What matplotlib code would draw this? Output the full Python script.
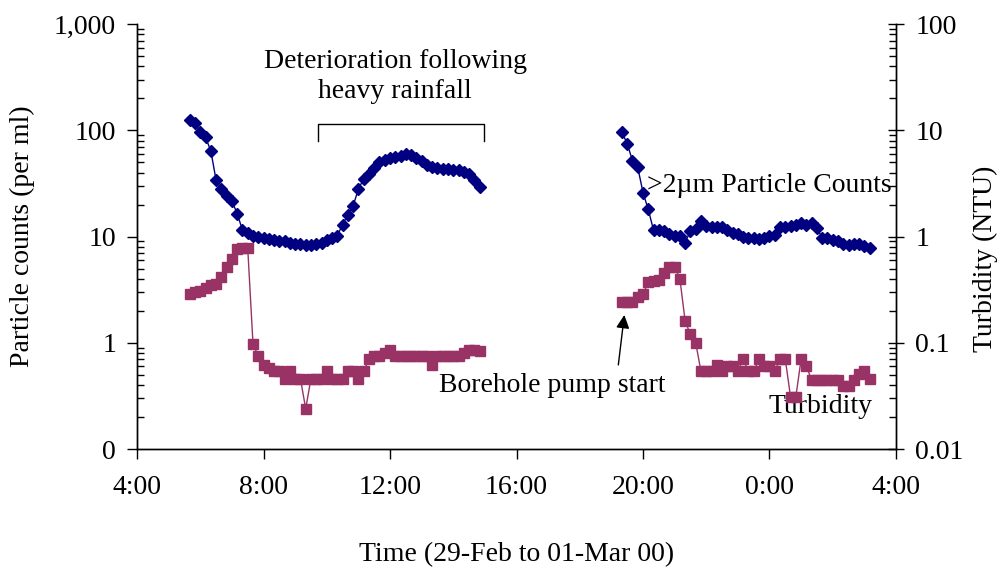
"""
particle counts and turbidity, 29-Feb to 01-Mar 00
"""
import matplotlib
matplotlib.use('Agg')
import matplotlib.pyplot as plt
from matplotlib.ticker import FixedLocator, LogLocator, NullFormatter

plt.rcParams['font.family'] = ['Liberation Serif', 'DejaVu Serif']
plt.rcParams['font.size'] = 20

# >2um particle counts (per ml), first run 29-Feb
count_times_1 = ['5:40', '5:50', '6:00', '6:10', '6:20', '6:30', '6:40', '6:50', '7:00', '7:10',
                 '7:20', '7:30', '7:40', '7:50', '8:00', '8:10', '8:20', '8:30', '8:40', '8:50',
                 '9:00', '9:10', '9:20', '9:30', '9:40', '9:50', '10:00', '10:10', '10:20', '10:30',
                 '10:40', '10:50', '11:00', '11:10', '11:20', '11:30', '11:40', '11:50', '12:00', '12:10',
                 '12:20', '12:30', '12:40', '12:50', '13:00', '13:10', '13:20', '13:30', '13:40', '13:50',
                 '14:00', '14:10', '14:20', '14:30', '14:40', '14:50']
counts_1 = [124, 118, 96, 86, 64, 34, 28, 24, 21.5, 16.5,
            11.5, 10.7, 10.2, 9.9, 9.7, 9.5, 9.3, 9.1, 9.0, 8.8,
            8.6, 8.5, 8.4, 8.4, 8.5, 8.8, 9.2, 9.6, 10.2, 13.0,
            16.0, 19.5, 28, 35, 39, 44, 50, 53, 55, 56,
            58, 60, 59, 55, 51, 47, 45, 44, 43.5, 43,
            42.5, 42, 40.5, 39, 34, 29]

# second run, 29-Feb evening to 01-Mar
count_times_2 = ['19:20', '19:30', '19:40', '19:50', '20:00', '20:10', '20:20', '20:30', '20:40', '20:50',
                 '21:00', '21:10', '21:20', '21:30', '21:40', '21:50', '22:00', '22:10', '22:20', '22:30',
                 '22:40', '22:50', '23:00', '23:10', '23:20', '23:30', '23:40', '23:50', '0:00', '0:10',
                 '0:20', '0:30', '0:40', '0:50', '1:00', '1:10', '1:20', '1:30', '1:40', '1:50',
                 '2:00', '2:10', '2:20', '2:30', '2:40', '2:50', '3:00', '3:10']
counts_2 = [96, 75, 52, 45, 26, 18, 11.5, 11.5, 11.3, 10.5,
            10.2, 10.1, 8.8, 11.3, 11.8, 14.0, 12.6, 12.3, 12.3, 12.2,
            11.5, 10.9, 10.5, 10.0, 9.8, 9.7, 9.5, 9.8, 10.1, 10.3,
            12.2, 12.3, 12.5, 12.8, 13.3, 12.9, 13.3, 12.0, 9.8, 9.6,
            9.3, 9.0, 8.5, 8.4, 8.6, 8.6, 8.1, 7.8]

# turbidity (NTU), same sample times
turbidity_1 = [0.29, 0.30, 0.31, 0.33, 0.35, 0.36, 0.42, 0.52, 0.62, 0.76,
               0.78, 0.78, 0.098, 0.075, 0.062, 0.058, 0.054, 0.054, 0.046, 0.054,
               0.046, 0.046, 0.024, 0.046, 0.046, 0.046, 0.054, 0.046, 0.046, 0.046,
               0.054, 0.054, 0.046, 0.054, 0.07, 0.076, 0.076, 0.08, 0.085, 0.076,
               0.076, 0.076, 0.076, 0.076, 0.076, 0.076, 0.062, 0.076, 0.076, 0.076,
               0.076, 0.076, 0.08, 0.085, 0.085, 0.083]
turbidity_2 = [0.24, 0.24, 0.245, 0.27, 0.29, 0.37, 0.38, 0.39, 0.45, 0.52,
               0.52, 0.40, 0.16, 0.12, 0.10, 0.054, 0.054, 0.054, 0.062, 0.054,
               0.06, 0.06, 0.054, 0.07, 0.054, 0.054, 0.07, 0.06, 0.06, 0.054,
               0.07, 0.07, 0.031, 0.031, 0.07, 0.06, 0.045, 0.045, 0.045, 0.045,
               0.045, 0.045, 0.039, 0.039, 0.045, 0.051, 0.054, 0.046]

x_ticks = [4, 8, 12, 16, 20, 24, 28]
x_tick_labels = ['4:00', '8:00', '12:00', '16:00', '20:00', '0:00', '4:00']
left_ticks = [0.1, 1, 10, 100, 1000]
left_tick_labels = ['0', '1', '10', '100', '1,000']
right_ticks = [0.01, 0.1, 1, 10, 100]
right_tick_labels = ['0.01', '0.1', '1', '10', '100']

NAVY = '#000080'
PLUM = '#993366'


# turns 'H:MM' into hours from midnight on 29-Feb
def to_hours(times, next_day_before=0):
    out = []
    for t in times:
        h, m = t.split(':')
        h = int(h) + int(m) / 60.0
        if h < next_day_before:
            h += 24
        out.append(h)
    return out


hours_1 = to_hours(count_times_1)
hours_2 = to_hours(count_times_2, next_day_before=12)

fig = plt.figure(figsize=(10.04, 5.75), dpi=100)
ax = fig.add_axes([0.1365, 0.219, 0.7559, 0.739])
ax2 = ax.twinx()

for hrs, vals in [(hours_1, counts_1), (hours_2, counts_2)]:
    ax.plot(hrs, vals, color=NAVY, lw=1, marker='D', ms=6.5, mec=NAVY, mfc=NAVY, zorder=3)
for hrs, vals in [(hours_1, turbidity_1), (hours_2, turbidity_2)]:
    ax2.plot(hrs, vals, color=PLUM, lw=1, marker='s', ms=7, mec=PLUM, mfc=PLUM, zorder=3)

ax.set_yscale('log')
ax.set_ylim(0.1, 1000)
ax.set_xlim(4, 28)
ax.yaxis.set_major_locator(FixedLocator(left_ticks))
ax.set_yticklabels(left_tick_labels)
ax.yaxis.set_minor_locator(LogLocator(base=10, subs=range(2, 10)))
ax.yaxis.set_minor_formatter(NullFormatter())
ax.set_xticks(x_ticks)
ax.set_xticklabels(x_tick_labels)

ax2.set_yscale('log')
ax2.set_ylim(0.01, 100)
ax2.yaxis.set_major_locator(FixedLocator(right_ticks))
ax2.set_yticklabels(right_tick_labels)
ax2.yaxis.set_minor_locator(LogLocator(base=10, subs=range(2, 10)))
ax2.yaxis.set_minor_formatter(NullFormatter())

for a in (ax, ax2):
    a.spines['top'].set_visible(False)
    for s in a.spines.values():
        s.set_linewidth(1.0)
ax.tick_params(axis='y', which='major', direction='out', length=7, width=1, pad=8)
ax.tick_params(axis='y', which='minor', direction='in', length=5, width=1)
ax.tick_params(axis='x', which='major', direction='out', length=7, width=1, pad=12)
ax2.tick_params(axis='y', which='major', direction='inout', length=12, width=1, pad=8)
ax2.tick_params(axis='y', which='minor', direction='in', length=5, width=1)

fig.text(0.022, 0.589, 'Particle counts (per ml)', rotation=90, ha='center', va='center')
fig.text(0.981, 0.55, 'Turbidity (NTU)', rotation=90, ha='center', va='center')
fig.text(0.515, 0.035, 'Time (29-Feb to 01-Mar 00)', ha='center', va='center')

# bracket over the rainfall period
ax.plot([9.73, 9.73, 14.98, 14.98], [80, 116, 116, 80], color='black', lw=1)
ax.text(12.16, 320, 'Deterioration following\nheavy rainfall', ha='center', va='center',
        linespacing=1.25)
ax.text(20.14, 30, '>2\u00b5m Particle Counts', ha='left', va='center')
ax.text(23.97, 0.25, 'Turbidity', ha='left', va='center')
ax.text(17.13, 0.40, 'Borehole pump start', ha='center', va='center')
ax.annotate('', xy=(19.41, 1.83), xytext=(19.22, 0.62),
            arrowprops=dict(arrowstyle='-|>', color='black', lw=1, mutation_scale=20,
                            shrinkA=0, shrinkB=0))

fig.savefig('out.png', dpi=100)
